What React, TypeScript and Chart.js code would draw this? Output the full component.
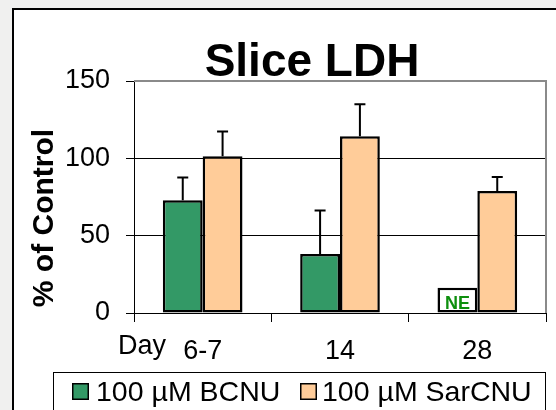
import React, { useEffect, useRef } from "react";
import { Chart, registerables } from "chart.js";

Chart.register(...registerables);

const categories = ["6-7", "14", "28"];
const bcnuValues = [72.9, 38.1, 16.3];
const bcnuErrors = [14.7, 28.1, null];
const sarcnuValues = [101.4, 114.2, 78.9];
const sarcnuErrors = [16, 20.7, 9.1];
const yTicks = [0, 50, 100, 150];
const notEvaluated = [false, false, true];

const GREEN = "#339966";
const ORANGE = "#ffcc99";
const FONT = "'Liberation Sans', Arial, sans-serif";

const decorPlugin = {
  id: "decor",
  beforeDatasetsDraw(chart: any) {
    const { ctx, chartArea } = chart;
    ctx.save();
    ctx.strokeStyle = "#8a8a8a";
    ctx.lineWidth = 2;
    ctx.beginPath();
    ctx.moveTo(chartArea.left, chartArea.top);
    ctx.lineTo(chartArea.right, chartArea.top);
    ctx.lineTo(chartArea.right, chartArea.bottom);
    ctx.stroke();
    ctx.restore();
  },
  afterDatasetsDraw(chart: any) {
    const { ctx } = chart;
    const yScale = chart.scales.y;
    const errs = [bcnuErrors, sarcnuErrors];
    ctx.save();
    ctx.strokeStyle = "#000";
    ctx.lineWidth = 2;
    chart.data.datasets.forEach((ds: any, di: number) => {
      const meta = chart.getDatasetMeta(di);
      meta.data.forEach((bar: any, i: number) => {
        const e = errs[di][i];
        if (e == null) return;
        const v = ds.data[i];
        const yTop = yScale.getPixelForValue(v + e);
        ctx.beginPath();
        ctx.moveTo(bar.x, bar.y);
        ctx.lineTo(bar.x, yTop);
        ctx.moveTo(bar.x - 5.5, yTop);
        ctx.lineTo(bar.x + 5.5, yTop);
        ctx.stroke();
      });
    });
    const meta0 = chart.getDatasetMeta(0);
    meta0.data.forEach((bar: any, i: number) => {
      if (!notEvaluated[i]) return;
      ctx.fillStyle = "#0e8f0e";
      ctx.font = `bold 18px ${FONT}`;
      ctx.textAlign = "center";
      ctx.textBaseline = "alphabetic";
      ctx.fillText("NE", bar.x, bar.base - 4);
    });
    ctx.restore();
  },
  afterDraw(chart: any) {
    const { ctx, chartArea } = chart;
    ctx.save();
    ctx.fillStyle = "#000";
    ctx.font = `bold 46px ${FONT}`;
    ctx.textAlign = "center";
    ctx.textBaseline = "alphabetic";
    ctx.fillText("Slice LDH", 312, 76);
    ctx.save();
    ctx.translate(53, 218);
    ctx.rotate(-Math.PI / 2);
    ctx.font = `bold 30px ${FONT}`;
    ctx.textAlign = "center";
    ctx.fillText("% of Control", 0, 0);
    ctx.restore();
    ctx.font = `27px ${FONT}`;
    ctx.textAlign = "left";
    ctx.fillText("Day", chartArea.left - 16, 354);
    ctx.fillStyle = "#fff";
    ctx.fillRect(53.5, 372.5, 492, 60);
    ctx.strokeStyle = "#000";
    ctx.lineWidth = 1;
    ctx.strokeRect(53.5, 372.5, 492, 60);
    const items = [
      { x: 72, tx: 96 },
      { x: 300, tx: 322 },
    ];
    chart.data.datasets.forEach((ds: any, di: number) => {
      const it = items[di];
      ctx.fillStyle = Array.isArray(ds.backgroundColor) ? ds.backgroundColor[0] : ds.backgroundColor;
      ctx.fillRect(it.x, 383, 17, 17);
      ctx.lineWidth = 1.5;
      ctx.strokeStyle = "#000";
      ctx.strokeRect(it.x + 0.75, 383.75, 15.5, 15.5);
      ctx.fillStyle = "#000";
      ctx.font = `28.5px ${FONT}`;
      ctx.textAlign = "left";
      ctx.fillText(ds.label, it.tx, 401);
    });
    ctx.restore();
  },
};

export default function App() {
  const ref = useRef<HTMLCanvasElement>(null);
  useEffect(() => {
    if (!ref.current) return;
    const chart = new Chart(ref.current, {
      type: "bar",
      data: {
        labels: categories,
        datasets: [
          {
            label: "100 µM BCNU",
            data: bcnuValues,
            backgroundColor: notEvaluated.map((n) => (n ? "#ffffff" : GREEN)),
            borderColor: "#000",
            borderWidth: 2.5,
            borderSkipped: false,
            barPercentage: 1,
            categoryPercentage: 0.58,
          },
          {
            label: "100 µM SarCNU",
            data: sarcnuValues,
            backgroundColor: ORANGE,
            borderColor: "#000",
            borderWidth: 2.5,
            borderSkipped: false,
            barPercentage: 1,
            categoryPercentage: 0.58,
          },
        ],
      },
      options: {
        responsive: false,
        animation: false,
        devicePixelRatio: 1,
        layout: { padding: { top: 81, right: 10, left: 0, bottom: 0 } },
        plugins: {
          legend: { display: false },
          title: { display: false },
          tooltip: { enabled: false },
        },
        scales: {
          x: {
            afterFit: (s: any) => {
              s.height = 97;
            },
            grid: {
              offset: true,
              drawOnChartArea: false,
              color: "#000",
              tickColor: "#000",
              tickLength: 9,
            },
            border: { color: "#000", width: 1 },
            ticks: {
              color: "#000",
              font: { family: FONT, size: 27 },
              padding: 13,
            },
          },
          y: {
            min: 0,
            max: 150,
            afterFit: (s: any) => {
              s.width = 134;
            },
            afterBuildTicks: (s: any) => {
              s.ticks = yTicks.map((v) => ({ value: v }));
            },
            grid: {
              color: (c: any) => (c.tick && c.tick.value === 150 ? "rgba(0,0,0,0)" : "#000"),
              tickColor: "#000",
              tickLength: 8,
              lineWidth: 1,
            },
            border: { color: "#000", width: 1 },
            ticks: {
              color: "#000",
              font: { family: FONT, size: 27 },
              padding: 16,
            },
          },
        },
      },
      plugins: [decorPlugin],
    });
    return () => chart.destroy();
  }, []);

  return (
    <div
      style={{
        position: "fixed",
        left: 0,
        top: 0,
        width: 556,
        height: 410,
        background: "#f0f0ef",
        overflow: "hidden",
      }}
    >
      <div
        style={{
          position: "absolute",
          left: 12,
          top: 8,
          width: 600,
          height: 450,
          background: "#fff",
          border: "2px solid #000",
          boxSizing: "border-box",
        }}
      />
      <canvas
        ref={ref}
        width={556}
        height={410}
        style={{ position: "absolute", left: 0, top: 0, width: 556, height: 410 }}
      />
    </div>
  );
}
